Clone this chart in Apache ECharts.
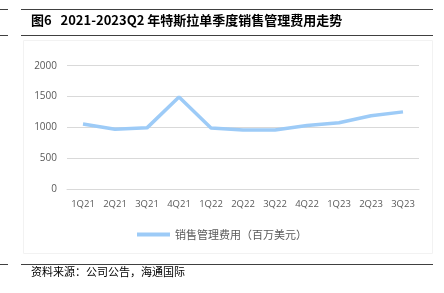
<!DOCTYPE html>
<html><head><meta charset="utf-8">
<script src="https://cdn.jsdelivr.net/npm/echarts@6/dist/echarts.min.js"></script>
<style>html,body{margin:0;padding:0;background:#fff}#c{width:444px;height:293px}</style>
</head><body><div id="c"></div>
<script>
const categories = ['1Q21','2Q21','3Q21','4Q21','1Q22','2Q22','3Q22','4Q22','1Q23','2Q23','3Q23'];
const sgaValues = [1056, 973, 994, 1494, 992, 961, 961, 1032, 1076, 1191, 1253];
const seriesName = '销售管理费用（百万美元）';
const titleText = '图6   2021-2023Q2 年特斯拉单季度销售管理费用走势';
const sourceText = '资料来源：公司公告，海通国际';

const chart = echarts.init(document.getElementById('c'), null, {renderer:'canvas'});
const lineStyle = {stroke:'#404040', lineWidth:1};
chart.setOption({
  animation:false,
  graphic:[
    {type:'line', shape:{x1:0,y1:9.5,x2:8,y2:9.5}, style:lineStyle},
    {type:'line', shape:{x1:21,y1:9.5,x2:433,y2:9.5}, style:lineStyle},
    {type:'line', shape:{x1:0,y1:35.5,x2:8,y2:35.5}, style:lineStyle},
    {type:'line', shape:{x1:21,y1:35.5,x2:433,y2:35.5}, style:lineStyle},
    {type:'line', shape:{x1:0,y1:264.5,x2:8,y2:264.5}, style:lineStyle},
    {type:'line', shape:{x1:21,y1:264.5,x2:433,y2:264.5}, style:lineStyle},
    {type:'rect', shape:{x:23.5,y:40.5,width:409,height:213}, style:{fill:'none', stroke:'#f2f2f2', lineWidth:1}},
    {type:'text', left:31, top:14, style:{text:titleText, font:'bold 13px "Noto Sans CJK SC", sans-serif', fill:'#000'}},
    {type:'text', left:31, top:266, style:{text:sourceText, font:'11px "Noto Sans CJK SC", sans-serif', fill:'#000'}}
  ],
  grid:{left:67, right:25, top:65.7, bottom:103.7},
  legend:{
    bottom:48, left:'center', itemWidth:33, itemHeight:4, itemGap:4,
    icon:'rect',
    textStyle:{color:'#595959', fontSize:11, fontFamily:'"Noto Sans CJK SC", sans-serif'},
    data:[seriesName]
  },
  xAxis:{
    type:'category', data:categories, boundaryGap:true,
    axisLine:{show:true, lineStyle:{color:'#d9d9d9'}},
    axisTick:{show:false},
    axisLabel:{interval:0, color:'#595959', fontSize:9.5, margin:10, fontFamily:'"Open Sans", sans-serif'}
  },
  yAxis:{
    type:'value', min:0, max:2000, interval:500,
    axisLine:{show:false}, axisTick:{show:false},
    splitLine:{lineStyle:{color:'#d9d9d9'}},
    axisLabel:{color:'#595959', fontSize:10, margin:10, fontFamily:'"Open Sans", sans-serif', formatter:function(v){return String(v);}}
  },
  series:[{
    name:seriesName, type:'line', data:sgaValues,
    symbol:'none', lineStyle:{color:'#9dcbf7', width:3.5}, itemStyle:{color:'#9dcbf7'}
  }]
});
</script></body></html>
